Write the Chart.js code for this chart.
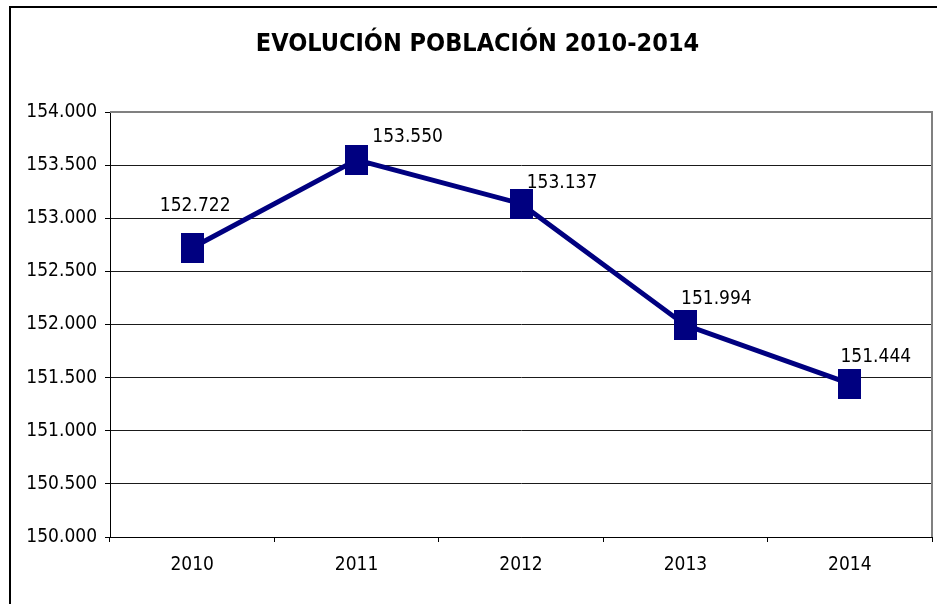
<!DOCTYPE html>
<html>
<head>
<meta charset="utf-8">
<script src="https://cdn.jsdelivr.net/npm/chart.js@4.4.1/dist/chart.umd.min.js"></script>
<style>
  html, body { margin: 0; padding: 0; background: #fff; overflow: hidden; }
  #wrap { position: absolute; left: 0; top: 0; width: 937px; height: 604px; }
</style>
</head>
<body>
<div id="wrap"><canvas id="c" width="937" height="604"></canvas></div>
<script>
const categories = ['2010', '2011', '2012', '2013', '2014'];
const poblacion = [152722, 153550, 153137, 151994, 151444];
const yMin = 150000;
const yMax = 154000;
const yStep = 500;
const titleText = 'EVOLUCIÓN POBLACIÓN 2010-2014';

const FONT = '"DejaVu Sans Condensed", "Liberation Sans", sans-serif';
const NAVY = '#000080';

function fmt(v) {
  return String(Math.round(v)).replace(/\B(?=(\d{3})+(?!\d))/g, '.');
}

// marker: 23x30 navy rectangle
const marker = document.createElement('canvas');
marker.width = 23; marker.height = 30;
(function(){ const m = marker.getContext('2d'); m.fillStyle = NAVY; m.fillRect(0, 0, 23, 30); })();

const framePlugin = {
  id: 'frame',
  beforeDraw(chart) {
    const ctx = chart.ctx;
    ctx.save();
    ctx.fillStyle = '#fff';
    ctx.fillRect(0, 0, chart.width, chart.height);
    ctx.strokeStyle = '#000';
    ctx.lineWidth = 2;
    ctx.beginPath();
    ctx.moveTo(10, chart.height + 10);
    ctx.lineTo(10, 7);
    ctx.lineTo(chart.width + 10, 7);
    ctx.stroke();
    ctx.restore();
  },
  beforeDatasetsDraw(chart) {
    const ctx = chart.ctx, a = chart.chartArea;
    ctx.save();
    ctx.strokeStyle = '#808080';
    ctx.lineWidth = 2;
    ctx.beginPath();
    ctx.moveTo(a.left, a.top);
    ctx.lineTo(a.right, a.top);
    ctx.lineTo(a.right, a.bottom);
    ctx.stroke();
    ctx.restore();
  }
};

const labelOffsets = [[3, -42], [51, -23], [41, -21], [31, -26], [26, -27]];
const labelPlugin = {
  id: 'valueLabels',
  afterDatasetsDraw(chart) {
    const ctx = chart.ctx;
    const meta = chart.getDatasetMeta(0);
    ctx.save();
    ctx.font = '19px ' + FONT;
    ctx.fillStyle = '#000';
    ctx.textAlign = 'center';
    ctx.textBaseline = 'middle';
    meta.data.forEach((pt, i) => {
      const v = chart.data.datasets[0].data[i];
      const o = labelOffsets[i];
      ctx.fillText(fmt(v), pt.x + o[0], pt.y + o[1]);
    });
    ctx.restore();
  }
};

new Chart(document.getElementById('c'), {
  type: 'line',
  data: {
    labels: categories,
    datasets: [{
      data: poblacion,
      borderColor: NAVY,
      borderWidth: 5,
      pointStyle: marker,
      pointRadius: 12,
      pointHoverRadius: 12,
      fill: false,
      tension: 0,
      clip: false
    }]
  },
  options: {
    responsive: false,
    animation: false,
    devicePixelRatio: 1,
    layout: { autoPadding: false, padding: { left: 23, right: 5, top: 0, bottom: 0 } },
    plugins: {
      legend: { display: false },
      tooltip: { enabled: false },
      title: {
        display: true,
        text: titleText,
        color: '#000',
        font: { family: FONT, size: 25, weight: 'bold', lineHeight: 1.2 },
        padding: { top: 29, bottom: 53 }
      }
    },
    scales: {
      x: {
        offset: true,
        grid: {
          offset: true,
          drawOnChartArea: false,
          drawTicks: true,
          tickLength: 5,
          color: '#000'
        },
        border: { display: true, color: '#000', width: 1 },
        ticks: {
          color: '#000',
          font: { family: FONT, size: 19 },
          padding: 12
        },
        afterFit(scale) { scale.height = 67; scale.paddingLeft = 0; scale.paddingRight = 0; }
      },
      y: {
        min: yMin,
        max: yMax,
        grid: {
          color: (c) => (c.tick && c.tick.value === yMax) ? 'rgba(0,0,0,0)' : '#1a1a1a',
          lineWidth: 1,
          drawTicks: true,
          tickLength: 5,
          tickColor: '#000'
        },
        border: { display: true, color: '#000', width: 1 },
        ticks: {
          stepSize: yStep,
          color: '#000',
          font: { family: FONT, size: 19 },
          padding: 8,
          callback: (v) => fmt(v)
        },
        afterFit(scale) { scale.width = 87; scale.paddingTop = 0; scale.paddingBottom = 0; }
      }
    }
  },
  plugins: [framePlugin, labelPlugin]
});
</script>
</body>
</html>
